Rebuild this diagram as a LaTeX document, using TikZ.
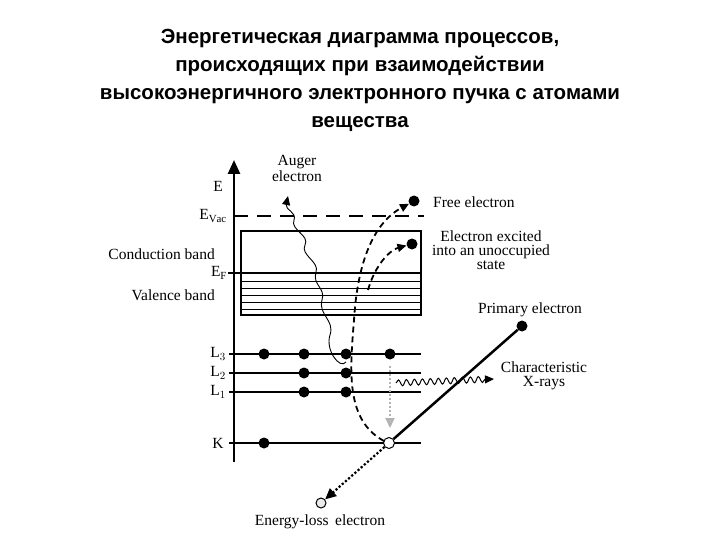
\documentclass[tikz,border=0pt]{standalone}
\usepackage{fontspec}
\setmainfont{Liberation Serif}
\newfontfamily\titlefont{Liberation Sans}
\usetikzlibrary{arrows.meta,decorations.pathmorphing}
\begin{document}
\begin{tikzpicture}[x=1pt,y=-1pt,
  lbl/.style={font=\fontsize{15.5}{15}\selectfont, inner sep=1pt},
  lvl/.style={line width=2.2pt},
  el/.style={circle, fill=black, minimum size=11pt, inner sep=0pt},
  hole/.style={circle, draw=black, fill=white, line width=1pt, minimum size=11pt, inner sep=0pt},
  tip/.style={-{Triangle[length=9pt,width=8pt]}}]
\useasboundingbox (0,0) rectangle (720,540);
\node[font=\titlefont\bfseries\fontsize{20.5}{28}\selectfont, align=center] (title) at (360,80)
 {Энергетическая диаграмма процессов,\\происходящих при взаимодействии\\высокоэнергичного электронного пучка с атомами\\вещества};
% axis
\coordinate (ax0) at (234,462);
\coordinate (ax1) at (234,160);
\draw[line width=2.5pt, -{Triangle[length=14pt,width=12pt]}] (ax0) -- (ax1);
\node[lbl] (lE) at (218,186) {E};
% vacuum
\coordinate (v0) at (234,216); \coordinate (v1) at (424,216);
\draw[line width=2.4pt, dash pattern=on 14pt off 9pt] (v0) -- (v1);
\node[lbl] (lvac) at (213,216) {E$_{\mathrm{Vac}}$};
% conduction band
\draw[line width=1.3pt] (241,231) rectangle (421,315);
\foreach \y in {281,288,295,302,309} \draw[line width=0.9pt] (241,\y) -- (421,\y);
\coordinate (f0) at (228,273); \coordinate (f1) at (421,273);
\draw[line width=2.6pt] (f0) -- (f1);
\node[lbl, anchor=east] (lcb) at (216,254) {Conduction band};
\node[lbl] (lef) at (219,273) {E$_{\mathrm F}$};
\node[lbl, anchor=east] (lvb) at (216,295) {Valence band};
% levels
\foreach \n/\y/\t in {L3/354/L$_3$,L2/373/L$_2$,L1/392/L$_1$,K/443/K}{
  \draw[lvl] (229,\y) -- (421,\y);
  \node[lbl] (l\n) at (218,\y) {\t};}
\foreach \n/\x/\y in {a/264/354,b/304/354,c/346/354,d/390/354,e/304/373,f/346/373,g/304/392,h/346/392,k/264/443}
  \node[el] (e\n) at (\x,\y) {};
% vertical transition
\draw[line width=2pt, gray!60, dotted, -{Triangle[length=10pt,width=9pt,fill=gray!50]}] (390,366) -- (390,428);
% primary electron
\node[el] (prim) at (522,326) {};
\node[hole] (kh) at (389,443) {};
\draw[line width=2.5pt] (kh) -- (prim);
\node[lbl] (lprim) at (530,310) {Primary electron};
% energy loss
\node[hole, fill=gray!15, minimum size=10pt] (loss) at (321,503) {};
\draw[line width=2.2pt, dotted, -{Triangle[length=11pt,width=10pt]}] (kh) -- (loss);
\node[lbl] (lloss) at (320,522) {Energy-loss\, electron};
% X-rays
\coordinate (x0) at (396,383); \coordinate (x1) at (494,379);
\draw[line width=1pt, decorate, decoration={snake, amplitude=3pt, segment length=8pt, post length=8pt}, tip] (x0) -- (x1);
\node[lbl, align=center] (lx) at (544,376) {Characteristic\\[-1pt]X-rays};
% free electrons
\node[el] (free) at (414,201) {};
\node[el] (exc) at (412,244) {};
\draw[line width=1.8pt, dash pattern=on 6pt off 4pt, tip] (384,441) .. controls (345,420) and (350,370) .. (354,320) .. controls (357,270) and (370,225) .. (free);
\draw[line width=1.8pt, dash pattern=on 6pt off 4pt, tip] (368,290) .. controls (375,265) and (390,250) .. (exc);
\node[lbl, anchor=west] (lfree) at (432,202) {Free electron};
\node[lbl, align=center] (lexc) at (491,250) {Electron excited\\[-1pt]into an unoccupied\\[-1pt]state};
% Auger
\draw[line width=0.9pt, tip] (346,362) .. controls (340,370) and (325,350) .. (330,335)
 .. controls (335,320) and (318,315) .. (322,300) .. controls (326,288) and (312,285) .. (316,272)
 .. controls (320,262) and (300,255) .. (305,245) .. controls (310,235) and (290,230) .. (294,220)
 .. controls (297,212) and (285,210) .. (288,196);
\node[lbl, align=center] (lauger) at (297,168) {Auger\\[1pt]electron};
\end{tikzpicture}
\end{document}
